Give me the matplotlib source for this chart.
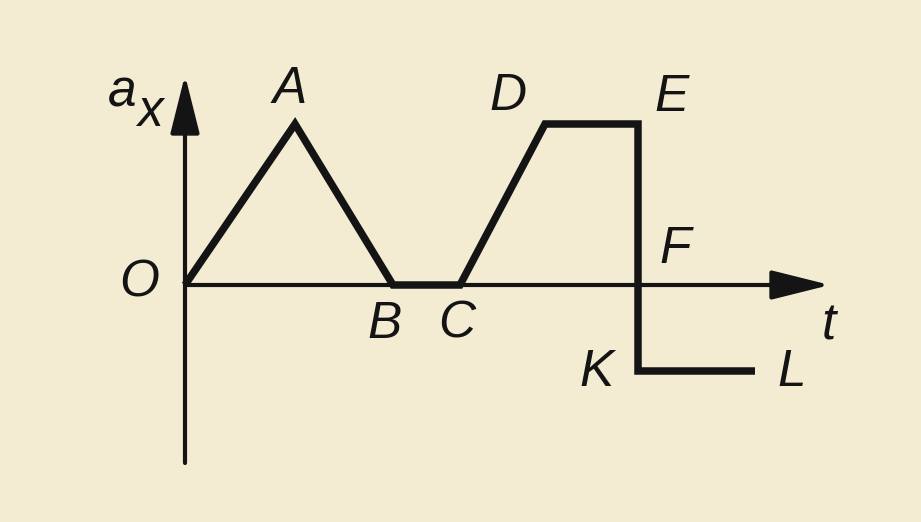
import matplotlib
matplotlib.use("Agg")
import matplotlib.pyplot as plt

# Graph vertices O, A, B, C, D, E, F(on E-K), K, L
t_vals = [0.0, 2.2, 4.16, 5.5, 7.2, 9.06, 9.06, 11.4]
a_vals = [0.0, 3.22, 0.0, 0.0, 3.22, 3.22, -1.72, -1.72]

labels = ["O", "A", "B", "C", "D", "E", "F", "K", "L"]
label_pos = [(-0.92, 0.04), (2.1, 3.92), (4.0, -0.78), (5.44, -0.78),
             (6.46, 3.78), (9.74, 3.76), (9.8, 0.72), (8.24, -1.74),
             (12.14, -1.74)]

bg = "#f3ecd3"
ink = "#141414"

fig = plt.figure(figsize=(9.21, 5.22), dpi=100, facecolor=bg)
ax = fig.add_axes([0, 0, 1, 1])
ax.set_facecolor(bg)
ax.set_xlim(-3.7, 14.72)
ax.set_ylim(-4.74, 5.7)
ax.axis("off")

# axes with arrows
arrow = dict(arrowstyle="-|>,head_length=36,head_width=9", mutation_scale=1,
             lw=3.0, color=ink, shrinkA=0, shrinkB=0)
ax.annotate("", xy=(12.9, 0), xytext=(0, 0), arrowprops=arrow)
ax.annotate("", xy=(0, 4.2), xytext=(0, -3.56), arrowprops=arrow)

# graph
ax.plot(t_vals, a_vals, color=ink, lw=5.4, solid_joinstyle="miter",
        solid_capstyle="butt")

font = dict(family=["Liberation Sans Narrow", "Liberation Sans"], style="italic",
            fontsize=37, color=ink, ha="center", va="center")
for s, (x, y) in zip(labels, label_pos):
    ax.text(x, y, s, **font)
ax.text(-1.26, 3.84, "a", **font)
ax.text(-0.70, 3.46, "x", **font)
ax.text(12.88, -0.82, "t", **font)

fig.savefig("out.png", dpi=100, facecolor=bg)
